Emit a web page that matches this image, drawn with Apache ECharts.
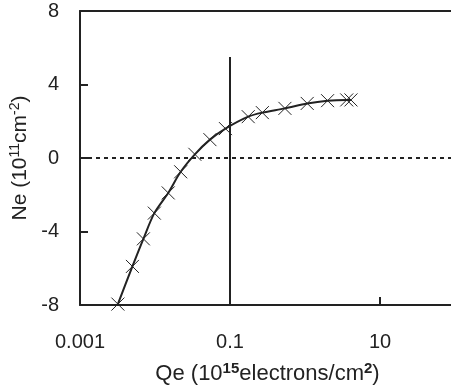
<!DOCTYPE html>
<html>
<head>
<meta charset="utf-8">
<script src="https://cdn.jsdelivr.net/npm/echarts@6/dist/echarts.min.js"></script>
<style>
  html, body { margin: 0; padding: 0; background: #fff; }
  #main { width: 451px; height: 388px; }
</style>
</head>
<body>
<div id="main"></div>
<script>
// dose Qe (10^15 electrons/cm^2) vs sheet density Ne (10^11 cm^-2)
const qe = [0.0032, 0.005, 0.007, 0.0098, 0.015, 0.022, 0.034, 0.054, 0.087, 0.175, 0.27, 0.54, 1.07, 2.0, 3.6, 4.1];
const ne = [-7.95, -5.9, -4.4, -3.0, -1.9, -0.75, 0.2, 1.0, 1.6, 2.25, 2.47, 2.7, 2.97, 3.12, 3.16, 3.16];
const xLabels = [0.001, 0.1, 10];
const xTicks = [10];
const yTicks = [-8, -4, 0, 4, 8];
const markX = 0.1;       // vertical reference line
const markTop = 5.5;

const ink = '#222';
const font = 'Liberation Sans';

const chart = echarts.init(document.getElementById('main'));

const option = {
  animation: false,
  grid: {
    left: 80, top: 11, right: -4, bottom: 83,
    outerBoundsMode: 'none',
    containLabel: false
  },
  xAxis: [{
    type: 'log',
    min: 0.001,
    max: 100,
    logBase: 10,
    name: '{t|Qe (10}{s|15}{t|electrons/cm}{s|2}{t|)}',
    nameLocation: 'middle',
    nameGap: 56,
    nameTextStyle: {
      rich: {
        t: { fontSize: 22, fontFamily: font, color: ink, lineHeight: 26 },
        s: { fontSize: 15, fontFamily: font, color: ink, fontWeight: 'bold', verticalAlign: 'top', lineHeight: 26 }
      }
    },
    axisLine: { onZero: false, lineStyle: { color: ink, width: 2 } },
    axisTick: { inside: true, length: 8, customValues: xTicks, lineStyle: { color: ink, width: 2 } },
    axisLabel: {
      customValues: xLabels, margin: 27, fontSize: 20, fontFamily: font, color: ink,
      formatter: v => String(v)
    },
    splitLine: { show: false },
    minorTick: { show: false }
  }, {
    // top frame line only
    type: 'log',
    position: 'top',
    min: 0.001,
    max: 100,
    axisLine: { show: true, onZero: false, lineStyle: { color: ink, width: 2 } },
    axisTick: { show: false },
    axisLabel: { show: false },
    splitLine: { show: false }
  }],
  yAxis: {
    type: 'value',
    min: yTicks[0],
    max: yTicks[yTicks.length - 1],
    interval: 4,
    name: '{t|Ne (10}{s|11}{t|cm}{s|-2}{t|)}',
    nameLocation: 'middle',
    nameGap: 39,
    nameTextStyle: {
      rich: {
        t: { fontSize: 21, fontFamily: font, color: ink, lineHeight: 24 },
        s: { fontSize: 14, fontFamily: font, color: ink, verticalAlign: 'top', lineHeight: 24 }
      }
    },
    axisLine: { show: true, onZero: false, lineStyle: { color: ink, width: 2 } },
    axisTick: { show: true, inside: true, length: 8, lineStyle: { color: ink, width: 2 } },
    axisLabel: { margin: 21, fontSize: 20, fontFamily: font, color: ink },
    splitLine: { show: false }
  },
  series: [{
    type: 'line',
    data: qe.map((x, i) => [x, ne[i]]),
    smooth: 0.3,
    symbol: 'path://M0,0L10,10M10,0L0,10',
    symbolSize: 13,
    itemStyle: { color: 'none', borderColor: ink, borderWidth: 1 },
    lineStyle: { color: ink, width: 2 },
    markLine: {
      silent: true,
      symbol: 'none',
      label: { show: false },
      data: [
        [{ coord: [markX, yTicks[0]] }, { coord: [markX, markTop] }],
        { yAxis: 0, lineStyle: { type: [4, 4], width: 2 } }
      ],
      lineStyle: { color: ink, width: 2, type: 'solid' }
    }
  }]
};

chart.setOption(option);
</script>
</body>
</html>
